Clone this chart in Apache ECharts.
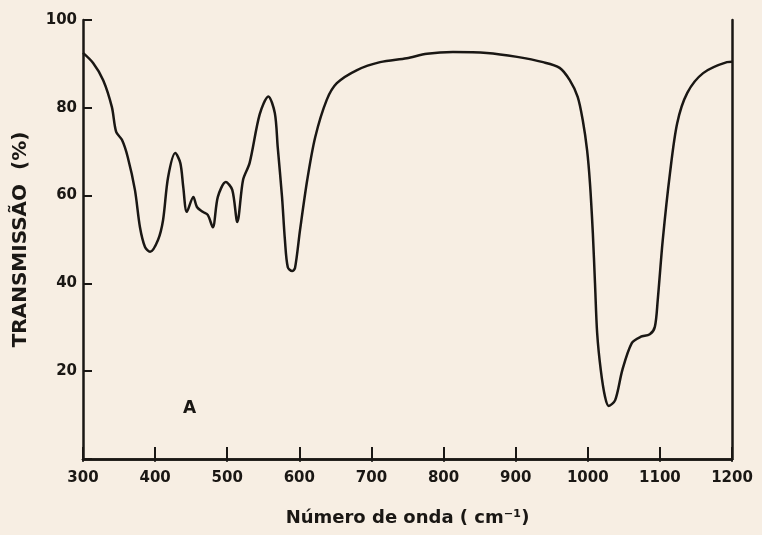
<!DOCTYPE html>
<html>
<head>
<meta charset="utf-8">
<script src="https://cdn.jsdelivr.net/npm/echarts@6/dist/echarts.min.js"></script>
<style>
  html, body { margin: 0; padding: 0; background: #f7eee3; }
  #chart { width: 762px; height: 535px; }
</style>
</head>
<body>
<div id="chart"></div>
<script>
// Infrared spectrum: wavenumber (cm^-1) and transmission (%)
const wavenumber = [
  300, 314, 328, 340, 346, 354, 362, 372, 379, 386, 393, 404, 411, 418, 428, 435,
  439, 444, 453, 458, 466, 473, 480, 487, 498, 507, 514, 522, 531, 545, 557, 566,
  570, 576, 580, 584, 590, 594, 601, 611, 622, 638, 652, 680, 712, 749, 777, 813,
  860, 902, 938, 961, 975, 986, 993, 999, 1003, 1007, 1010, 1013, 1018, 1024, 1029,
  1038, 1048, 1061, 1073, 1086, 1093, 1097, 1104, 1114, 1124, 1138, 1160, 1193, 1200
];
const transmission = [
  92.5, 90.2, 86.3, 80.2, 74.5, 72.7, 68.8, 61.3, 52.8, 48.3, 47.2, 49.9, 54.4, 64.2, 69.7, 67.4,
  62.0, 56.3, 59.7, 57.4, 56.3, 55.6, 52.8, 59.7, 63.1, 61.3, 54.0, 63.6, 67.4, 78.5, 82.6, 78.8,
  71.1, 59.7, 49.9, 43.7, 42.8, 43.5, 52.2, 63.6, 73.3, 81.8, 85.6, 88.6, 90.4, 91.3, 92.3, 92.7,
  92.5, 91.6, 90.4, 89.1, 86.3, 82.5, 77.2, 70.4, 62.9, 51.5, 40.1, 28.7, 20.3, 14.1, 12.1,
  13.4, 20.3, 26.4, 27.8, 28.4, 30.1, 36.2, 49.9, 65.1, 76.5, 83.4, 87.9, 90.4, 90.5
];
const xTicks = { min: 300, max: 1200, step: 100 };
const yTicks = { min: 0, max: 100, step: 20 };
const xTitle = 'Número de onda ( cm⁻¹)';
const yTitle = 'TRANSMISSÃO  (%)';
const panelLabel = 'A';

const ink = '#1a1714';
const font = 'DejaVu Sans';

const chart = echarts.init(document.getElementById('chart'), null, { renderer: 'canvas' });

chart.setOption({
  backgroundColor: '#f7eee3',
  animation: false,
  grid: { left: 83, right: 30, top: 20, bottom: 76 },
  xAxis: [
    {
      type: 'value',
      position: 'bottom',
      min: xTicks.min, max: xTicks.max, interval: xTicks.step,
      name: xTitle,
      nameLocation: 'middle',
      nameGap: 50,
      nameTextStyle: { fontFamily: font, fontSize: 18, fontWeight: 'bold', color: ink },
      axisLine: { show: true, lineStyle: { color: ink, width: 2.5 } },
      axisTick: { show: true, inside: true, length: 12, lineStyle: { color: ink, width: 2 } },
      axisLabel: {
        margin: 12, fontFamily: font, fontSize: 15, fontWeight: 'bold', color: ink,
        showMinLabel: true, showMaxLabel: true,
        formatter: v => String(v)
      },
      splitLine: { show: false }
    },
    {
      type: 'value',
      position: 'top',
      min: xTicks.min, max: xTicks.max, interval: xTicks.step,
      axisLine: { show: true, lineStyle: { color: ink, width: 2.5 } },
      axisTick: { show: true, inside: true, length: 3, lineStyle: { color: ink, width: 1.5 } },
      axisLabel: { show: false },
      splitLine: { show: false }
    }
  ],
  yAxis: [
    {
      type: 'value',
      position: 'left',
      min: yTicks.min, max: yTicks.max, interval: yTicks.step,
      name: yTitle,
      nameLocation: 'middle',
      nameGap: 52,
      nameRotate: 90,
      nameTextStyle: { fontFamily: font, fontSize: 20, fontWeight: 'bold', color: ink },
      axisLine: { show: true, lineStyle: { color: ink, width: 2.5 } },
      axisTick: { show: true, inside: true, length: 9, lineStyle: { color: ink, width: 2 } },
      axisLabel: {
        margin: 6, fontFamily: font, fontSize: 15, fontWeight: 'bold', color: ink,
        formatter: v => (v === 0 ? '' : String(v))
      },
      splitLine: { show: false }
    },
    {
      type: 'value',
      position: 'right',
      min: yTicks.min, max: yTicks.max, interval: yTicks.step,
      axisLine: { show: true, lineStyle: { color: ink, width: 2.5 } },
      axisTick: { show: false },
      axisLabel: { show: false },
      splitLine: { show: false }
    }
  ],
  graphic: [
    {
      type: 'text',
      left: 183, top: 400,
      style: { text: panelLabel, font: 'bold 17px "DejaVu Sans"', fill: ink }
    }
  ],
  series: [
    {
      type: 'line',
      xAxisIndex: 0,
      yAxisIndex: 0,
      data: wavenumber.map((w, i) => [w, transmission[i]]),
      showSymbol: false,
      smooth: 0.3,
      lineStyle: { color: ink, width: 2.5 },
      clip: true
    }
  ]
});
</script>
</body>
</html>
